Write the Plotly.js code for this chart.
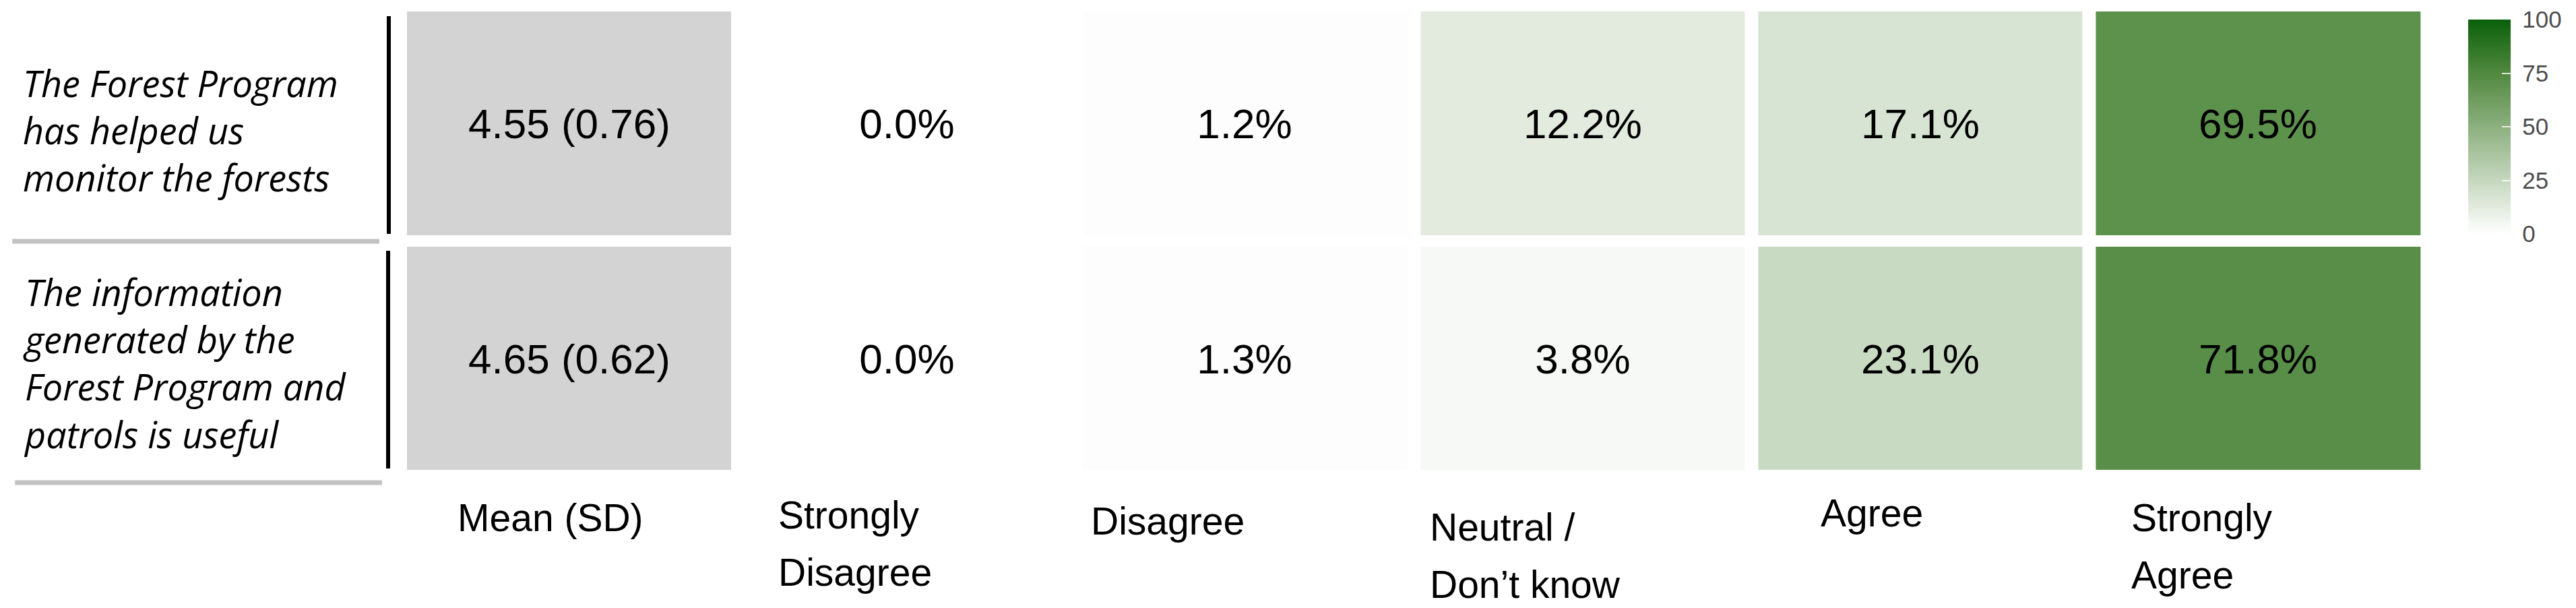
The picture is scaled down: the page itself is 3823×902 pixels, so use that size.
<!DOCTYPE html>
<html>
<head>
<meta charset="utf-8">
<script src="https://cdn.plot.ly/plotly-3.0.1.min.js"></script>
<style>
  html, body { margin: 0; padding: 0; background: #ffffff; }
  #chart { width: 3823px; height: 902px; }
</style>
</head>
<body>
<div id="chart"></div>
<script>
// statements (rows, top to bottom), split in the lines they wrap to
const statementLines = [
  ["The Forest Program", "has helped us", "monitor the forests"],
  ["The information", "generated by the", "Forest Program and", "patrols is useful"],
];

// column headers, split in lines
const columnLines = [
  ["Mean (SD)"],
  ["Strongly", "Disagree"],
  ["Disagree"],
  ["Neutral /", "Don\u2019t know"],
  ["Agree"],
  ["Strongly", "Agree"],
];

const meanScores = [4.55, 4.65];
const sdScores = [0.76, 0.62];

// percent of answers per statement
const stronglyDisagree = [0.0, 0.0];
const disagree = [1.2, 1.3];
const neutral = [12.2, 3.8];
const agree = [17.1, 23.1];
const stronglyAgree = [69.5, 71.8];

const scaleTicks = [0, 25, 50, 75, 100];

// ---- layout in pixels ----
const W = 3823, H = 902;
const PL = 594, PR = 3603, PT = 9, PB = 706;
const px2x = (p) => (p - PL) / (PR - PL);
const px2y = (p) => 1 - (p - PT) / (PB - PT);

const rowIdx = statementLines.map((_, i) => i);
const likertCols = [1, 2, 3, 4, 5];

const pctRows = rowIdx.map((i) => [
  stronglyDisagree[i], disagree[i], neutral[i], agree[i], stronglyAgree[i],
]);

const numFont = "Liberation Sans, Arial, sans-serif";

const meanTrace = {
  type: "heatmap",
  x: [0],
  y: rowIdx,
  z: rowIdx.map(() => [1]),
  text: rowIdx.map((i) => [meanScores[i].toFixed(2) + " (" + sdScores[i].toFixed(2) + ")"]),
  texttemplate: "%{text}",
  textfont: { family: numFont, size: 62, color: "#000000" },
  colorscale: [[0, "#d3d3d3"], [1, "#d3d3d3"]],
  showscale: false,
  xgap: 20,
  ygap: 17,
  hoverinfo: "skip",
};

const pctTrace = {
  type: "heatmap",
  x: likertCols,
  y: rowIdx,
  z: pctRows,
  zmin: 0,
  zmax: 100,
  texttemplate: "%{z:.1f}%",
  textfont: { family: numFont, size: 62, color: "#000000" },
  colorscale: [
    [0, "#ffffff"],
    [0.25, "#c5d7be"],
    [0.5, "#8cb07f"],
    [0.75, "#50893f"],
    [1, "#0a600a"],
  ],
  xgap: 20,
  ygap: 17,
  hoverinfo: "skip",
  colorbar: {
    x: px2x(3663),
    xanchor: "left",
    xpad: 0,
    y: px2y(29),
    yanchor: "top",
    ypad: 0,
    thickness: 63,
    thicknessmode: "pixels",
    len: 318,
    lenmode: "pixels",
    outlinewidth: 0,
    tickvals: scaleTicks,
    ticktext: scaleTicks.map((t) => "\u00a0" + t),
    ticks: "inside",
    ticklen: 13,
    tickwidth: 2,
    tickcolor: "rgba(255,255,255,0.8)",
    tickfont: { family: numFont, size: 35, color: "#4d4d4d" },
  },
};

const annotations = [];

// row labels (italic, left aligned)
const rowLabelCenters = [193, 538];
statementLines.forEach((lines, i) => {
  annotations.push({
    xref: "paper",
    yref: "paper",
    x: px2x(32),
    y: px2y(rowLabelCenters[i]),
    xanchor: "left",
    yanchor: "middle",
    align: "left",
    showarrow: false,
    text: lines.join("<br>"),
    font: { family: "Open Sans, Noto Sans, sans-serif", size: 54, color: "#000000", style: "italic" },
  });
});

// column headers, each line placed on its own
const headerLeft = [677, 1153, 1617, 2121, 2701, 3162];
const headerNudge = [0, -4, 5, 14, -7, 0];
const headerLineY = [768, 853];
columnLines.forEach((lines, c) => {
  lines.forEach((line, k) => {
    annotations.push({
      xref: "paper",
      yref: "paper",
      x: px2x(headerLeft[c]),
      y: px2y(headerLineY[k] + headerNudge[c]),
      xanchor: "left",
      yanchor: "middle",
      showarrow: false,
      text: line,
      font: { family: numFont, size: 57, color: "#000000" },
    });
  });
});

// black bars next to the statements, grey rules under them
const shapes = [
  { y0: 24, y1: 347, x: 577 },
  { y0: 372, y1: 695, x: 576 },
].map((s) => ({
  type: "line",
  xref: "paper",
  yref: "paper",
  x0: px2x(s.x),
  x1: px2x(s.x),
  y0: px2y(s.y0),
  y1: px2y(s.y1),
  line: { color: "#000000", width: 6 },
}));

[
  { y: 358, x0: 18, x1: 563 },
  { y: 716, x0: 22, x1: 567 },
].forEach((s) => {
  shapes.push({
    type: "line",
    xref: "paper",
    yref: "paper",
    x0: px2x(s.x0),
    x1: px2x(s.x1),
    y0: px2y(s.y),
    y1: px2y(s.y),
    line: { color: "#c2c2c2", width: 7 },
  });
});

const layout = {
  width: W,
  height: H,
  margin: { l: PL, r: W - PR, t: PT, b: H - PB },
  paper_bgcolor: "#ffffff",
  plot_bgcolor: "#ffffff",
  xaxis: { range: [-0.5, 5.5], visible: false, fixedrange: true },
  yaxis: { range: [1.5, -0.5], visible: false, fixedrange: true },
  annotations,
  shapes,
  showlegend: false,
};

Plotly.newPlot("chart", [meanTrace, pctTrace], layout, { staticPlot: true, displayModeBar: false });
</script>
</body>
</html>
